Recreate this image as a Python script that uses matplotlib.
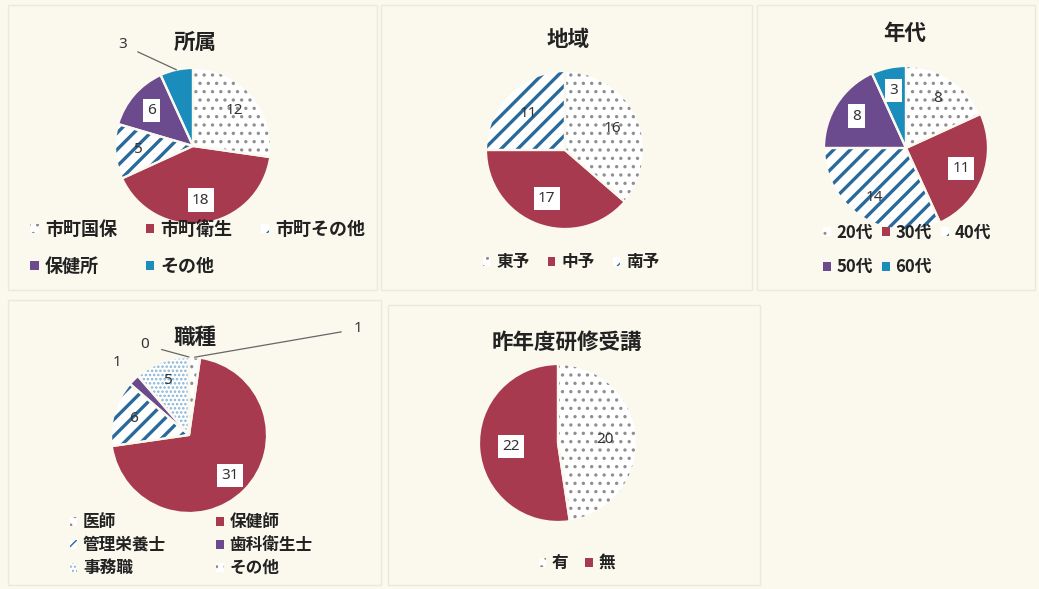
import matplotlib
matplotlib.use("Agg")
import matplotlib.pyplot as plt
from matplotlib.patches import Rectangle
import numpy as np

plt.rcParams['font.family'] = ['Noto Sans CJK JP', 'DejaVu Sans']

# ---------------- data ----------------
aff_labels = ['市町国保', '市町衛生', '市町その他', '保健所', 'その他']
aff_values = [12, 18, 5, 6, 3]

reg_labels = ['東予', '中予', '南予']
reg_values = [16, 17, 11]

age_labels = ['20代', '30代', '40代', '50代', '60代']
age_values = [8, 11, 14, 8, 3]

job_labels = ['医師', '保健師', '管理栄養士', '歯科衛生士', '事務職', 'その他']
job_values = [1, 31, 6, 1, 5, 0]

trn_labels = ['有', '無']
trn_values = [20, 22]

# ---------------- styles ----------------
W, H = 1039, 589
BG = '#fbf9ee'
RED = '#a83a50'
PURPLE = '#6b4a8e'
TEAL = '#1b8dbd'
STRIPE = '#2a6a9a'
DOT = '#8f8f8f'
LDOT = '#86b4d6'

# style: (facecolor, hatch, hatchcolor, boxed label)
S_DOT = ('white', '..', DOT, False)
S_RED = (RED, None, None, True)
S_STR = ('white', '//', STRIPE, False)
S_PUR = (PURPLE, None, None, True)
S_TEA = (TEAL, None, None, True)
S_LDOT = ('white', '....', LDOT, False)

fig = plt.figure(figsize=(W / 100, H / 100), dpi=100)
fig.patch.set_facecolor(BG)

# faint panel frames
for (x0, y0, x1, y1) in [(8, 5, 377, 290), (381, 5, 752, 290), (757, 5, 1035, 290),
                         (8, 300, 381, 585), (388, 305, 760, 585)]:
    fig.add_artist(Rectangle((x0 / W, 1 - y1 / H), (x1 - x0) / W, (y1 - y0) / H,
                             transform=fig.transFigure, fill=False,
                             edgecolor='#ebe8dc', lw=1.0))


def fx(x):
    return x / W


def fy(y):
    return 1 - y / H


def make_pie(cx, cy, r, values, styles, k, skip=()):
    ax = fig.add_axes([(cx - r) / W, 1 - (cy + r) / H, 2 * r / W, 2 * r / H])
    wedges, _ = ax.pie(values, radius=1, startangle=90, counterclock=False,
                       colors=[s[0] for s in styles])
    for w, s in zip(wedges, styles):
        if s[1]:
            w.set_hatch(s[1])
            w.set_edgecolor(s[2])
            if hasattr(w, 'set_hatch_linewidth'):
                w.set_hatch_linewidth(2.4 if '/' in s[1] else 1.2)
        else:
            w.set_edgecolor(s[0])
        w.set_linewidth(0)
    # separators
    ax.pie(values, radius=1, startangle=90, counterclock=False,
           wedgeprops=dict(fill=False, edgecolor=BG, linewidth=1.6))
    ax.set_xlim(-1, 1)
    ax.set_ylim(-1, 1)
    ax.axis('off')
    ax.set_facecolor('none')
    total = float(sum(values))
    cum = np.cumsum([0] + list(values))
    mids = []
    for i, v in enumerate(values):
        a = np.deg2rad(90 - 360 * (cum[i] + v / 2) / total)
        mids.append(a)
        if i in skip:
            continue
        boxed = styles[i][3]
        ax.text(k * np.cos(a), k * np.sin(a), str(v), ha='center', va='center',
                fontsize=11, color='#333333', family=['Noto Sans', 'DejaVu Sans'],
                bbox=dict(facecolor='white', edgecolor='none', pad=3) if boxed else None,
                zorder=5)
    return ax, wedges, mids


def title(x, y, s):
    fig.text(fx(x), fy(y), s, ha='center', va='center', fontsize=15.5,
             fontweight='bold', color='#222222')


def legend(handles, labels, x, y, ncol, order, colsp, lsp, fs=12):
    h = [handles[i] for i in order]
    l = [labels[i] for i in order]
    fig.legend(h, l, loc='center', bbox_to_anchor=(fx(x), fy(y)), ncol=ncol,
               frameon=False, handlelength=0.45, handleheight=0.45,
               handletextpad=0.35, columnspacing=colsp, labelspacing=lsp,
               prop=dict(weight='bold', size=fs), labelcolor='#222222',
               borderpad=0, borderaxespad=0)


# ---------- 所属 ----------
cx, cy, r = 193, 146, 78
ax, w, mids = make_pie(cx, cy, r, aff_values, [S_DOT, S_RED, S_STR, S_PUR, S_TEA], 0.7, skip=(4,))
a = mids[4]
ax.annotate(str(aff_values[4]), xy=(np.cos(a), np.sin(a)), xytext=((123 - cx) / r, (cy - 45) / r),
            ha='center', va='center', fontsize=11, color='#333333', family=['Noto Sans'],
            arrowprops=dict(arrowstyle='-', color='#666666', lw=0.9, shrinkA=6, shrinkB=0),
            annotation_clip=False)
title(195, 42, '所属')
legend(w, aff_labels, 198, 248, 3, [0, 3, 1, 4, 2], 1.6, 1.0, fs=13)

# ---------- 地域 ----------
cx, cy, r = 565, 150, 79
ax, w, mids = make_pie(cx, cy, r, reg_values, [S_DOT, S_RED, S_STR], 0.66)
title(568, 40, '地域')
legend(w, reg_labels, 571, 262, 3, [0, 1, 2], 1.1, 0.5)

# ---------- 年代 ----------
cx, cy, r = 906, 148, 82
ax, w, mids = make_pie(cx, cy, r, age_values, [S_DOT, S_RED, S_STR, S_PUR, S_TEA], 0.72)
title(905, 33, '年代')
legend(w, age_labels, 907, 250, 3, [0, 3, 1, 4, 2], 0.55, 1.0)

# ---------- 職種 ----------
cx, cy, r = 189, 435, 78
ax, w, mids = make_pie(cx, cy, r, job_values, [S_DOT, S_RED, S_STR, S_PUR, S_LDOT, S_DOT], 0.74,
                       skip=(0, 3, 5))
for idx, (tx, ty, lead) in zip([0, 5, 3], [(358, 329, True), (145, 345, True), (117, 363, False)]):
    a = mids[idx]
    ax.annotate(str(job_values[idx]), xy=(np.cos(a), np.sin(a)),
                xytext=((tx - cx) / r, (cy - ty) / r), ha='center', va='center',
                fontsize=11, color='#333333', family=['Noto Sans'],
                arrowprops=dict(arrowstyle='-', color='#666666', lw=0.9, shrinkA=7, shrinkB=0)
                if lead else None,
                annotation_clip=False)
title(195, 337, '職種')
legend(w, job_labels, 191, 545, 2, [0, 2, 4, 1, 3, 5], 3.0, 0.3)

# ---------- 昨年度研修受講 ----------
cx, cy, r = 558, 443, 79
ax, w, mids = make_pie(cx, cy, r, trn_values, [S_DOT, S_RED], 0.6)
title(567, 342, '昨年度研修受講')
legend(w, trn_labels, 577, 563, 2, [0, 1], 1.0, 0.5)

fig.savefig('out.png', dpi=100, facecolor=BG)
